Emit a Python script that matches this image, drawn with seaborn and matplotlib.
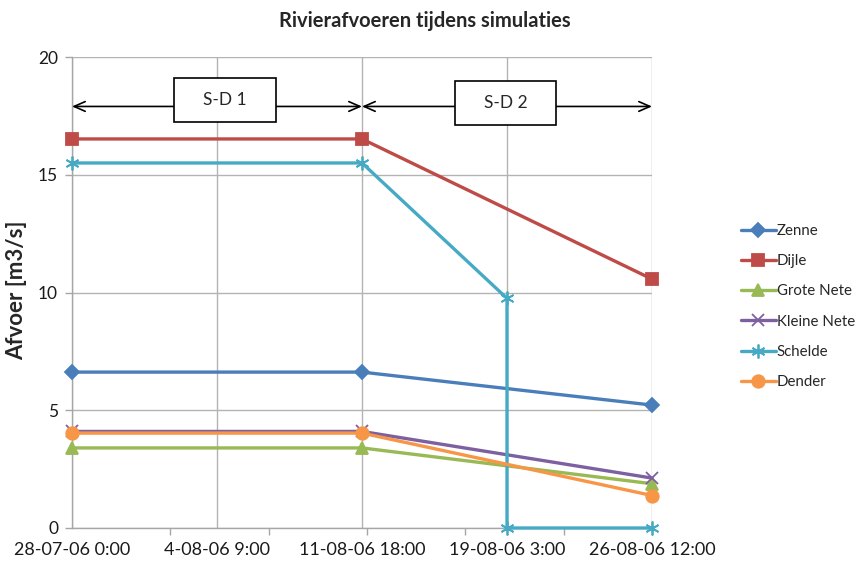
import matplotlib
matplotlib.use("Agg")
import matplotlib.pyplot as plt
from matplotlib.patches import Rectangle
from matplotlib.ticker import FixedLocator
import seaborn as sns
import pandas as pd

# ---- data ----
# x positions in days since 28-07-06 0:00
x_main = [0.0, 14.75, 29.5]
zenne = [6.62, 6.62, 5.22]
dijle = [16.52, 16.52, 10.57]
grote_nete = [3.4, 3.4, 1.88]
kleine_nete = [4.1, 4.1, 2.12]
dender = [4.03, 4.03, 1.38]
x_schelde = [0.0, 14.75, 22.125, 22.125, 29.5]
schelde = [15.5, 15.5, 9.75, 0.0, 0.0]

series_names = ["Zenne", "Dijle", "Grote Nete", "Kleine Nete", "Schelde", "Dender"]
tick_days = [0.0, 7.375, 14.75, 22.125, 29.5]
tick_labels = ["28-07-06 0:00", "4-08-06 9:00", "11-08-06 18:00", "19-08-06 3:00", "26-08-06 12:00"]
minor_tick_days = [0, 5, 10, 15, 20, 25]
y_ticks = [0, 5, 10, 15, 20]
periods = [("S-D 1", 0.0, 14.75), ("S-D 2", 14.75, 29.5)]

series_data = {"Zenne": (x_main, zenne), "Dijle": (x_main, dijle),
               "Grote Nete": (x_main, grote_nete), "Kleine Nete": (x_main, kleine_nete),
               "Schelde": (x_schelde, schelde), "Dender": (x_main, dender)}

colors = {"Zenne": "#4A7EBB", "Dijle": "#BE4B48", "Grote Nete": "#98B954",
          "Kleine Nete": "#7D60A0", "Schelde": "#46AAC5", "Dender": "#F79646"}
markers = {"Zenne": "D", "Dijle": "s", "Grote Nete": "^", "Kleine Nete": "x",
           "Schelde": (6, 2, 0), "Dender": "o"}
msizes = {"Zenne": 7, "Dijle": 8, "Grote Nete": 8.5, "Kleine Nete": 9,
          "Schelde": 10, "Dender": 9}
# layout of the period boxes (x centre, y centre, width, height in data units)
box_layout = [(7.78, 18.17, 5.2, 1.87), (22.05, 18.05, 5.15, 1.85)]

sns.set_style("white")
plt.rcParams["font.family"] = ["Lato", "DejaVu Sans"]

fig = plt.figure(figsize=(8.59, 5.62), dpi=100)
ax = fig.add_axes([72/859, 1-528/562, 580/859, 471/562])

for name in series_names:
    xs, ys = series_data[name]
    d = pd.DataFrame({"dag": xs, "afvoer": ys})
    sns.lineplot(data=d, x="dag", y="afvoer", sort=False, estimator=None,
                 color=colors[name], marker=markers[name], markersize=msizes[name],
                 markeredgecolor=colors[name], markeredgewidth=1.3,
                 linewidth=2.4, clip_on=False, ax=ax, zorder=3, label=name)

ax.set_xlim(0, 29.5)
ax.set_ylim(0, 20)
ax.set_xticks(tick_days)
ax.set_xticklabels(tick_labels)
ax.xaxis.set_minor_locator(FixedLocator(minor_tick_days))
ax.set_yticks(y_ticks)
ax.tick_params(axis="x", which="major", length=0, pad=10, labelsize=13, colors="#1a1a1a")
ax.tick_params(axis="x", which="minor", length=5, width=1, color="#A6A6A6", bottom=True)
ax.tick_params(axis="y", length=5, width=1, color="#A6A6A6", pad=5, labelsize=12.5, labelcolor="#1a1a1a", left=True)
ax.grid(True, which="major", color="#B3B3B3", linewidth=1)
for s in ["top", "right"]:
    ax.spines[s].set_visible(False)
for s in ["left", "bottom"]:
    ax.spines[s].set_color("#A6A6A6")
    ax.spines[s].set_linewidth(1)
ax.set_xlabel("")
ax.set_ylabel("")
fig.text(17/859, 1-290/562, "Afvoer [m3/s]", rotation=90, ha="center", va="center",
         fontsize=16, fontweight="bold")

# period annotations
arrow_y = 17.9
for (label, x0, x1), (cx, cy, w, h) in zip(periods, box_layout):
    ax.annotate("", xy=(x0, arrow_y), xytext=(x1, arrow_y),
                arrowprops=dict(arrowstyle="<->,head_length=0.8,head_width=0.35",
                                color="black", lw=1.2, shrinkA=0, shrinkB=0),
                zorder=4)
    ax.add_patch(Rectangle((cx - w/2, cy - h/2), w, h, facecolor="white",
                           edgecolor="black", lw=1.2, zorder=5))
    ax.text(cx, cy, label, ha="center", va="center", fontsize=12.5, zorder=6)

ax.legend(loc="upper left", bbox_to_anchor=(741/859, 1-224/562), bbox_transform=fig.transFigure,
          frameon=False, fontsize=10.8, labelspacing=1.08, handlelength=2.3,
          handletextpad=0.08, borderaxespad=0, borderpad=0)

fig.text(425/859, 1-21/562, "Rivierafvoeren tijdens simulaties", ha="center", va="center",
         fontsize=14.5, fontweight="bold")

fig.savefig("out.png", dpi=100)
